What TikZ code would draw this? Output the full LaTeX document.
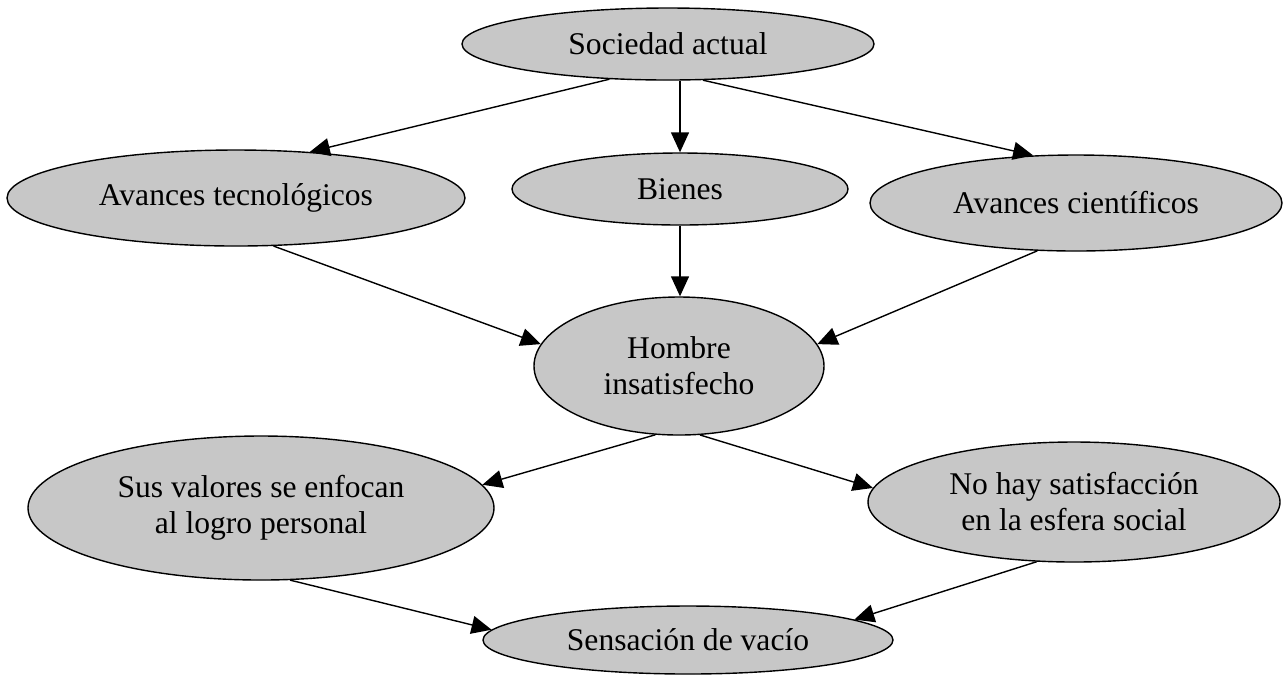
\documentclass[tikz,border=0pt]{standalone}
\usepackage{fontspec}
\setmainfont{Liberation Serif}
\usetikzlibrary{shapes.geometric,arrows.meta}
\colorlet{bubblefill}{black!22}

\begin{document}
\begin{tikzpicture}[x=0.5pt, y=-0.5pt, >={Triangle[length=10pt,width=9pt]},
    bubble/.style={ellipse, draw, line width=0.7pt, fill=bubblefill, inner sep=0pt,
      align=center, font=\fontsize{15.8}{18}\selectfont},
    link/.style={->, line width=0.7pt}]
  \useasboundingbox (0,0) rectangle (1284,677);

  \node[bubble, minimum width=206pt, minimum height=36pt] (soc) at (668,44) {Sociedad actual};
  \node[bubble, minimum width=229pt, minimum height=48pt] (tec) at (236,198) {Avances tecnológicos};
  \node[bubble, minimum width=168pt, minimum height=36pt] (bie) at (680,189) {Bienes};
  \node[bubble, minimum width=206pt, minimum height=48pt] (cie) at (1076,203) {Avances científicos};
  \node[bubble, minimum width=145pt, minimum height=69pt] (hom) at (679,366) {Hombre\\insatisfecho};
  \node[bubble, minimum width=233pt, minimum height=72pt] (val) at (261,508) {Sus valores se enfocan\\al logro personal};
  \node[bubble, minimum width=206pt, minimum height=60pt] (noh) at (1074,502) {No hay satisfacción\\en la esfera social};
  \node[bubble, minimum width=205pt, minimum height=34pt] (sen) at (688,640) {Sensación de vacío};

  \draw[link] (soc.211) -- (tec.32);
  \draw[link] (soc.south -| bie) -- (bie.north);
  \draw[link] (soc.314) -- (cie.132);
  \draw[link] (tec.308) -- (hom.171);
  \draw[link] (bie.south) -- (bie.south |- hom.north);
  \draw[link] (cie.231) -- (hom.9);
  \draw[link] (hom.251) -- (val.6);
  \draw[link] (hom.287) -- (noh.176);
  \draw[link] (val.292) -- (sen.177);
  \draw[link] (noh.238) -- (sen.7);
\end{tikzpicture}
\end{document}
